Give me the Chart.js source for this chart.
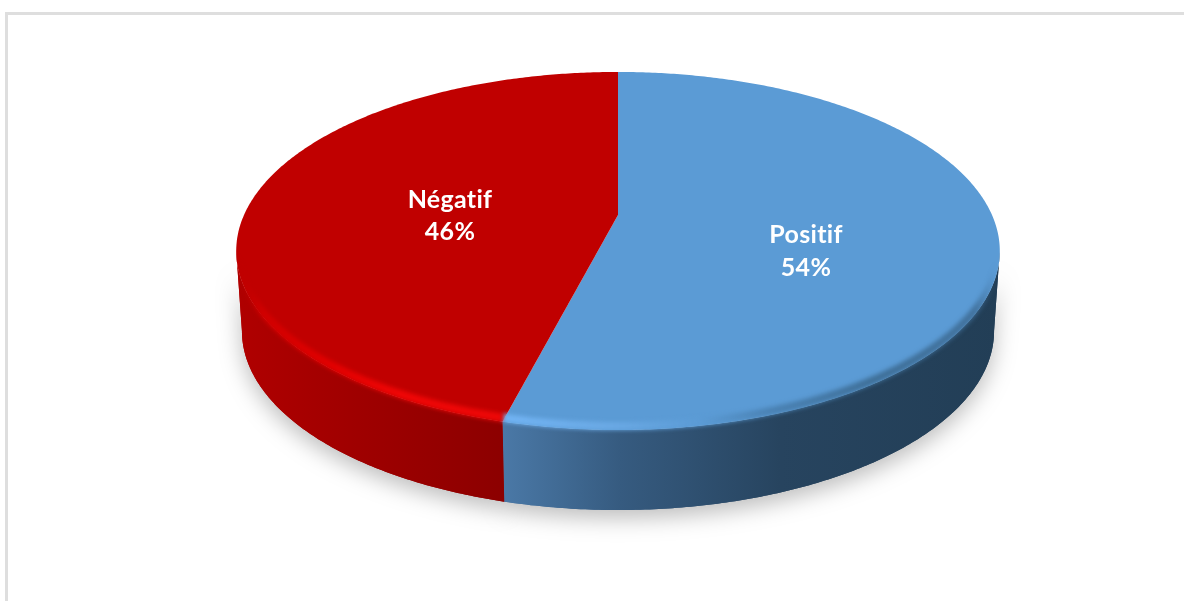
<!DOCTYPE html>
<html lang="fr">
<head>
<meta charset="UTF-8">
<title>Positif / Négatif</title>
<script src="https://cdnjs.cloudflare.com/ajax/libs/Chart.js/4.4.1/chart.umd.min.js"></script>
<style>
body { margin: 0; background: #fff; overflow: hidden; }
#frame {
    position: absolute; left: 5px; top: 12px; right: -5px; bottom: -5px;
    border-left: 3px solid #dedede; border-top: 3px solid #dedede;
}
#pie { position: absolute; left: 0; top: 0; }
</style>
</head>
<body>
<div id="frame"></div>
<canvas id="pie" width="1184" height="601"></canvas>
<script>
const categories = ["Positif", "Négatif"];
const shares = [54, 46];
const topColors = ["#5b9bd5", "#c00000"];

// tilted disc: perspective squeezes the far half, so the hub sits above the middle
const cx = 618, hubY = 215, depth = 80;
const persp = 0.201, scaleX = 374, scaleY = 171.8, baseShrink = 0.985;

// horizontal shading per slice: [pixel x, colour]
const wallStops = [
    [[505, "#4a78a6"], [620, "#365b80"], [780, "#27445f"], [1000, "#223e56"]],
    [[236, "#b00000"], [350, "#a00000"], [505, "#8c0000"]]
];
const rimStops = [
    [[503, "#72b4f4"], [610, "#6aa9e4"], [700, "#5b9bd5"], [770, "#4a82b4"], [870, "#3f7099"], [975, "rgba(60,105,145,0.8)"], [995, "rgba(60,105,145,0)"]],
    [[240, "rgba(192,0,0,0)"], [262, "#d00000"], [330, "#e20000"], [400, "#f00606"], [505, "#ee0808"]]
];
const labelSpots = [[806, 235, 268], [450, 200, 232]];

function project(angle, r) {
    const u = Math.cos(angle) * r, t = Math.sin(angle) * r;
    const d = 1 - persp * t;
    return [cx + scaleX * u / d, hubY + scaleY * t / d];
}

function lower(p) {
    return [cx + (p[0] - cx) * baseShrink, p[1] + depth];
}

function arcPoints(a0, a1) {
    const pts = [];
    const n = Math.max(2, Math.ceil((a1 - a0) / 0.01));
    for (let i = 0; i <= n; i++) {
        pts.push(project(a0 + (a1 - a0) * i / n, 1));
    }
    return pts;
}

function hGradient(ctx, stops) {
    const x0 = stops[0][0], x1 = stops[stops.length - 1][0];
    const g = ctx.createLinearGradient(x0, 0, x1, 0);
    stops.forEach(s => g.addColorStop((s[0] - x0) / (x1 - x0), s[1]));
    return g;
}

function trace(ctx, pts) {
    pts.forEach((p, i) => i ? ctx.lineTo(p[0], p[1]) : ctx.moveTo(p[0], p[1]));
}

const pie3d = {
    id: "pie3d",
    beforeDatasetsDraw(chart) {
        const ctx = chart.ctx;
        const arcs = chart.getDatasetMeta(0).data;
        // the wall is only seen between the two points where the rim turns back
        const turn = Math.asin(persp);

        // side walls, with a soft shadow under the base
        ctx.save();
        ctx.shadowColor = "rgba(0,0,0,0.26)";
        ctx.shadowBlur = 22;
        ctx.shadowOffsetY = 8;
        arcs.forEach((arc, i) => {
            const edge = arcPoints(Math.max(arc.startAngle, turn), Math.min(arc.endAngle, Math.PI - turn));
            ctx.fillStyle = hGradient(ctx, wallStops[i]);
            ctx.beginPath();
            trace(ctx, edge.concat(edge.map(lower).reverse()));
            ctx.closePath();
            ctx.fill();
        });
        ctx.restore();

        // shadow of the second wall falls on the first one: repaint them clean
        arcs.forEach((arc, i) => {
            const edge = arcPoints(Math.max(arc.startAngle, turn), Math.min(arc.endAngle, Math.PI - turn));
            ctx.fillStyle = hGradient(ctx, wallStops[i]);
            ctx.beginPath();
            trace(ctx, edge.concat(edge.map(lower).reverse()));
            ctx.closePath();
            ctx.fill();
        });

        // top face
        arcs.forEach((arc, i) => {
            ctx.fillStyle = topColors[i];
            ctx.beginPath();
            ctx.moveTo(cx, hubY);
            arcPoints(arc.startAngle, arc.endAngle).forEach(p => ctx.lineTo(p[0], p[1]));
            ctx.closePath();
            ctx.fill();
        });

        // bevel along the front rim
        ctx.save();
        ctx.filter = "blur(2px)";
        ctx.lineWidth = 8;
        arcs.forEach((arc, i) => {
            const a0 = Math.max(arc.startAngle, 0.22), a1 = Math.min(arc.endAngle, Math.PI - 0.22);
            ctx.strokeStyle = hGradient(ctx, rimStops[i]);
            ctx.beginPath();
            trace(ctx, arcPoints(a0, a1).map(p => [p[0], p[1] - 4]));
            ctx.stroke();
        });
        ctx.restore();

        // labels
        ctx.fillStyle = "#fff";
        ctx.font = "bold 25px Lato";
        ctx.letterSpacing = "0.3px";
        ctx.textAlign = "center";
        ctx.textBaseline = "middle";
        categories.forEach((name, i) => {
            ctx.fillText(name, labelSpots[i][0], labelSpots[i][1]);
            ctx.fillText(shares[i] + "%", labelSpots[i][0], labelSpots[i][2]);
        });
        return false;
    }
};

new Chart(document.getElementById("pie"), {
    type: "pie",
    data: {
        labels: categories,
        datasets: [{ data: shares, backgroundColor: topColors, borderWidth: 0 }]
    },
    options: {
        responsive: false,
        animation: false,
        plugins: { legend: { display: false }, tooltip: { enabled: false } }
    },
    plugins: [pie3d]
});
</script>
</body>
</html>
